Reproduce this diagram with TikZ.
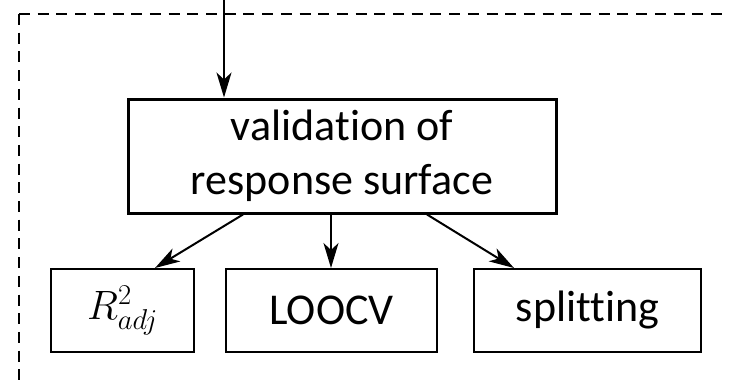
\RequirePackage{fix-cm}
\documentclass[tikz,border=0pt]{standalone}
\usepackage{fontspec}
\setmainfont{Carlito}[Ligatures={NoCommon}]
\usetikzlibrary{arrows.meta}
\begin{document}
\begin{tikzpicture}[x=1pt,y=-1pt,
  mainbox/.style={draw, line width=3pt, minimum width=428pt, minimum height=114pt, inner sep=0pt, align=center,
    font=\fontsize{44}{54}\selectfont},
  subbox/.style={draw, line width=2pt, minimum height=83pt, inner sep=0pt, align=center,
    font=\fontsize{44}{54}\selectfont},
  conn/.style={line width=2pt, -{Stealth[length=25pt, width=15pt, inset=7pt]}},
  frame/.style={line width=2pt, dash pattern=on 11pt off 7.7pt}
]
\useasboundingbox (0,0) rectangle (729,380);
\coordinate (corner) at (19,14);
\coordinate (frameright) at (760,14);
\coordinate (framebottom) at (19,400);
\draw[frame] (corner) -- (frameright);
\draw[frame] (corner) -- (framebottom);

\node[mainbox] (main) at (342,156) {validation of\\response surface};
\node[subbox, minimum width=143pt] (radj) at (122.5,310.5) {\fontsize{41}{50}\selectfont$R^2_{adj}$};
\node[subbox, minimum width=211pt] (loocv) at (331.5,310.5) {LOOCV};
\node[subbox, minimum width=227pt] (split) at (587.5,310.5) {splitting};

\coordinate (in) at (224,0);
\draw[conn] (in) -- (in |- main.north);
\draw[conn] ([xshift=-99pt]main.south) -- ([xshift=32.5pt]radj.north);
\draw[conn] ([xshift=-11pt]main.south) -- ([xshift=-0.5pt]loocv.north);
\draw[conn] ([xshift=85pt]main.south) -- ([xshift=-73.5pt]split.north);
\end{tikzpicture}
\end{document}
